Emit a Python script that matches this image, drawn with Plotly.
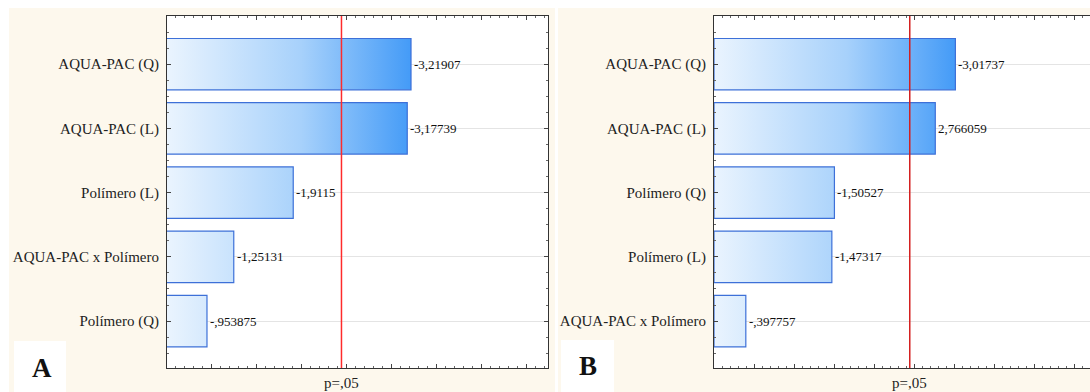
import plotly.graph_objects as go

W, H = 1090, 392

# ---------------- data ----------------
cats_a = ["AQUA-PAC (Q)", "AQUA-PAC (L)", "Polímero (L)", "AQUA-PAC x Polímero", "Polímero (Q)"]
vals_a = [-3.21907, -3.17739, -1.9115, -1.25131, -0.953875]

cats_b = ["AQUA-PAC (Q)", "AQUA-PAC (L)", "Polímero (Q)", "Polímero (L)", "AQUA-PAC x Polímero"]
vals_b = [-3.01737, 2.766059, -1.50527, -1.47317, -0.397757]

p_crit = 2.447  # p=,05 threshold (t, df=6)
p_label = "p=,05"
xrange_a = [0.51, 4.74]
xrange_b = [0.0, 4.70]

SERIF = "Liberation Serif"
CREAM = "#fdf8ed"
BAR_LINE = "#3d70d8"
SCALE = [[0, "#eaf4fe"], [0.55, "#a7d1fb"], [1, "#449bf7"]]


def fmt(v):
    s = str(v)
    if abs(v) < 1:
        s = s.replace("0.", ".")
    return s.replace(".", ",")


def px_x(p):
    return p / W


def px_y(p):
    return 1 - p / H


fig = go.Figure()


def add_panel(cats, vals, xr, xa, ya, red):
    xref = "x" if xa == "xaxis" else "x2"
    yref = "y" if ya == "yaxis" else "y2"
    vmax = max(abs(v) for v in vals)
    for i, v in enumerate(vals):
        a = abs(v)
        fig.add_trace(go.Scatter(
            x=[0, a, a, 0, 0], y=[i - 0.4, i - 0.4, i + 0.4, i + 0.4, i - 0.4],
            mode="lines", fill="toself",
            fillgradient=dict(type="horizontal", colorscale=SCALE, start=xr[0], stop=vmax),
            line=dict(color=BAR_LINE, width=1.2),
            xaxis=xref, yaxis=yref, showlegend=False, hoverinfo="skip"))
        fig.add_annotation(x=a, y=i, xref=xref, yref=yref, text=fmt(v), showarrow=False,
                           xanchor="left", yanchor="middle", xshift=1,
                           font=dict(family=SERIF, size=13, color="#111"))
    # significance threshold line, drawn as a trace above the bars
    fig.add_trace(go.Scatter(
        x=[p_crit, p_crit], y=[-0.75, 4.73], mode="lines",
        line=dict(color=red, width=1.5), xaxis=xref, yaxis=yref,
        showlegend=False, hoverinfo="skip"))
    fig.add_annotation(x=p_crit, xref=xref, y=px_y(383), yref="paper", text=p_label,
                       showarrow=False, font=dict(family=SERIF, size=15, color="#222"),
                       xanchor="center", yanchor="middle")


add_panel(cats_a, vals_a, xrange_a, "xaxis", "yaxis", "#ff2b2b")
add_panel(cats_b, vals_b, xrange_b, "xaxis2", "yaxis2", "#d41f1f")

common_x = dict(showticklabels=False, showgrid=False, zeroline=False, showline=True,
                linecolor="#333", linewidth=1, ticks="inside", ticklen=4, tickcolor="#444",
                dtick=0.5, tick0=0, mirror="ticks",
                minor=dict(dtick=0.1, ticks="inside", ticklen=2, tickcolor="#666"))

fig.update_layout(
    width=W, height=H, margin=dict(l=0, r=0, t=0, b=0),
    paper_bgcolor="white", plot_bgcolor="white",
    font=dict(family=SERIF),
    xaxis=dict(domain=[px_x(167), px_x(548)], range=xrange_a, anchor="y", **common_x),
    xaxis2=dict(domain=[px_x(714), 1.0], range=xrange_b, anchor="y2", **common_x),
    yaxis=dict(domain=[px_y(368), px_y(16)], range=[4.73, -0.75], anchor="x",
               tickvals=list(range(len(cats_a))), ticktext=cats_a,
               tickfont=dict(family=SERIF, size=15, color="#222"),
               showgrid=True, gridcolor="#e4e4e4", gridwidth=1, zeroline=False,
               showline=True, linecolor="#333", linewidth=1, mirror="ticks",
               ticks="inside", ticklen=4, tickcolor="#444", ticklabelstandoff=4,
               minor=dict(dtick=0.25, tick0=0, ticks="inside", ticklen=2, tickcolor="#666")),
    yaxis2=dict(domain=[px_y(368), px_y(16)], range=[4.73, -0.75], anchor="x2",
                tickvals=list(range(len(cats_b))), ticktext=cats_b,
                tickfont=dict(family=SERIF, size=15, color="#222"),
                showgrid=True, gridcolor="#e4e4e4", gridwidth=1, zeroline=False,
                showline=True, linecolor="#333", linewidth=1, mirror=False,
                ticks="inside", ticklen=4, tickcolor="#444", ticklabelstandoff=4,
                minor=dict(dtick=0.25, tick0=0, ticks="inside", ticklen=2, tickcolor="#666")),
)

# backgrounds (cream panels, white plot areas, white letter boxes)
fig.add_shape(type="rect", xref="paper", yref="paper", x0=px_x(9), x1=px_x(555),
              y0=0, y1=px_y(8), fillcolor=CREAM, line_width=0, layer="below")
fig.add_shape(type="rect", xref="paper", yref="paper", x0=px_x(558), x1=1,
              y0=0, y1=px_y(8), fillcolor=CREAM, line_width=0, layer="below")
fig.add_shape(type="rect", xref="x domain", yref="y domain", x0=0, x1=1, y0=0, y1=1,
              fillcolor="white", line_width=0, layer="below")
fig.add_shape(type="rect", xref="x2 domain", yref="y2 domain", x0=0, x1=1, y0=0, y1=1,
              fillcolor="white", line_width=0, layer="below")
fig.add_shape(type="rect", xref="paper", yref="paper", x0=px_x(14), x1=px_x(66),
              y0=0, y1=px_y(341), fillcolor="white", line_width=0, layer="below")
fig.add_shape(type="rect", xref="paper", yref="paper", x0=px_x(561), x1=px_x(614),
              y0=0, y1=px_y(340), fillcolor="white", line_width=0, layer="below")

fig.add_annotation(x=px_x(42), y=px_y(368), xref="paper", yref="paper", text="<b>A</b>",
                   showarrow=False, xanchor="center", yanchor="middle",
                   font=dict(family=SERIF, size=27, color="#111"))
fig.add_annotation(x=px_x(588), y=px_y(366), xref="paper", yref="paper", text="<b>B</b>",
                   showarrow=False, xanchor="center", yanchor="middle",
                   font=dict(family=SERIF, size=27, color="#111"))

fig.write_html("out.html")
